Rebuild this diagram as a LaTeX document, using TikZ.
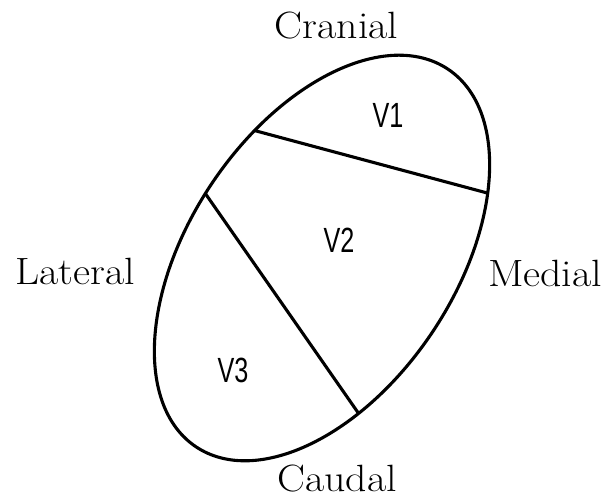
\documentclass[tikz,border=0pt]{standalone}
\usepackage{fontspec}
\newfontfamily\vfont{Liberation Sans}
\begin{document}
\begin{tikzpicture}[x=1pt,y=1pt,
  outline/.style={line width=3.1pt},
  side/.style={font=\fontsize{38}{40}\selectfont, anchor=base, inner sep=0pt, xscale=1.1},
  region/.style={font=\vfont\fontsize{35}{36}\selectfont, xscale=0.72, inner sep=0pt}]
\useasboundingbox (0,0) rectangle (603,500);
\begin{scope}[shift={(322,242)}, rotate=56.3]
  \draw[outline] (0,0) ellipse [x radius=227, y radius=133];
  \coordinate (a1) at (72.4:227 and 133);
  \coordinate (a2) at (-50:227 and 133);
  \coordinate (b1) at (92.8:227 and 133);
  \coordinate (b2) at (241.3:227 and 133);
\end{scope}
\draw[outline] (a1) -- (a2);
\draw[outline] (b1) -- (b2);
\node[region] (v1) at (388,385) {V1};
\node[region] (v2) at (339,260) {V2};
\node[region] (v3) at (233,130) {V3};
\node[side] (cranial) at (336.5,461) {Cranial};
\node[side] (medial) at (545,213) {Medial};
\node[side] (lateral) at (75,215) {Lateral};
\node[side] (caudal) at (337,8) {Caudal};
\end{tikzpicture}
\end{document}
